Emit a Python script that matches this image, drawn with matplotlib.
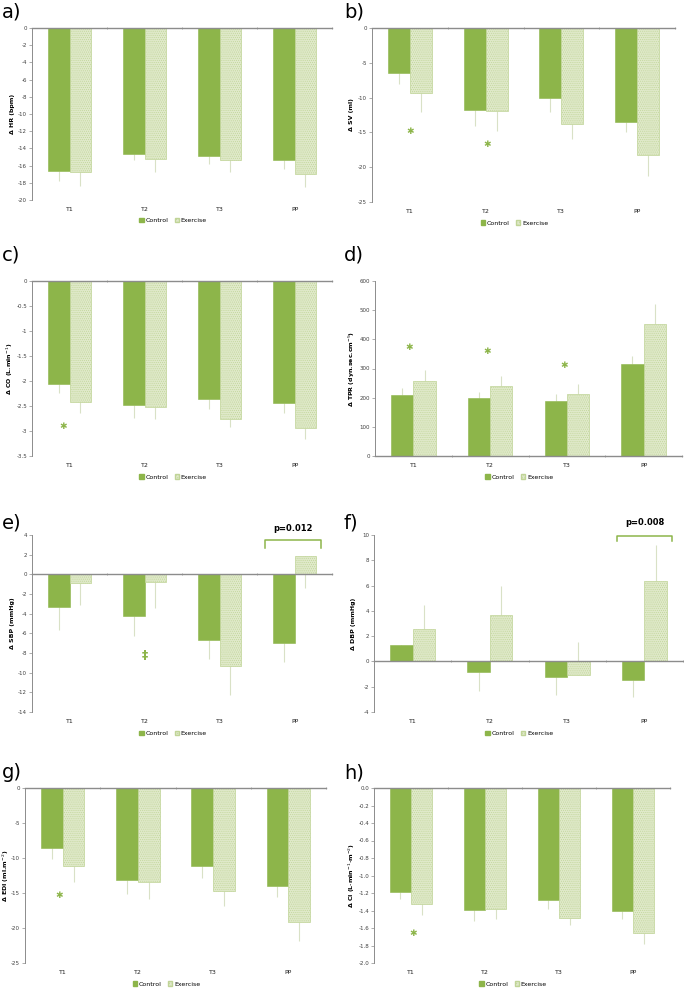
import matplotlib
matplotlib.use("Agg")
import matplotlib.pyplot as plt
import matplotlib.transforms as mtransforms
from matplotlib.patches import Patch
import numpy as np

plt.rcParams['axes.unicode_minus'] = False
plt.rcParams['hatch.linewidth'] = 0.4

categories = ['T1', 'T2', 'T3', 'PP']

# a) heart rate
hr_control = [-16.6, -14.6, -14.9, -15.4]
hr_exercise = [-16.8, -15.2, -15.4, -17.0]
hr_control_err = [-1.2, -0.8, -0.9, -1.0]
hr_exercise_err = [-1.6, -1.6, -1.4, -1.5]

# b) stroke volume
sv_control = [-6.4, -11.8, -10.1, -13.5]
sv_exercise = [-9.4, -11.9, -13.8, -18.2]
sv_control_err = [-1.7, -2.3, -2.0, -1.5]
sv_exercise_err = [-2.6, -2.9, -2.2, -3.0]
sv_stars = [(0.0, -14.8), (1.02, -16.8)]

# c) cardiac output
co_control = [-2.06, -2.47, -2.36, -2.44]
co_exercise = [-2.41, -2.51, -2.76, -2.93]
co_control_err = [-0.17, -0.26, -0.19, -0.19]
co_exercise_err = [-0.22, -0.24, -0.15, -0.23]
co_stars = [(-0.08, -2.9)]

# d) total peripheral resistance
tpr_control = [208, 199, 190, 314]
tpr_exercise = [256, 240, 213, 454]
tpr_control_err = [25, 22, 24, 29]
tpr_exercise_err = [40, 33, 35, 66]
tpr_stars = [(-0.06, 373), (0.96, 360), (1.96, 312)]

# e) systolic blood pressure
sbp_control = [-3.36, -4.2, -6.66, -7.03]
sbp_exercise = [-0.92, -0.8, -9.37, 1.87]
sbp_control_err = [-2.3, -2.05, -1.95, -1.9]
sbp_exercise_err = [-2.17, -2.63, -2.93, -3.23]
sbp_marks = [(1.0, -8.3)]
sbp_p = 'p=0.012'

# f) diastolic blood pressure
dbp_control = [1.3, -0.8, -1.2, -1.45]
dbp_exercise = [2.6, 3.67, -1.08, 6.35]
dbp_control_err = [-1.2, -1.5, -1.47, -1.4]
dbp_exercise_err = [1.84, 2.29, 2.64, 2.85]
dbp_p = 'p=0.008'

# g) end-diastolic index
edi_control = [-8.5, -13.2, -11.2, -14.0]
edi_exercise = [-11.2, -13.45, -14.7, -19.2]
edi_control_err = [-1.7, -2.0, -1.6, -1.6]
edi_exercise_err = [-2.2, -2.35, -2.1, -2.7]
edi_stars = [(-0.05, -15.3)]

# h) cardiac index
ci_control = [-1.185, -1.39, -1.28, -1.405]
ci_exercise = [-1.33, -1.38, -1.49, -1.66]
ci_control_err = [-0.08, -0.13, -0.10, -0.095]
ci_exercise_err = [-0.12, -0.12, -0.08, -0.12]
ci_stars = [(0.03, -1.66)]

GREEN = '#8db54a'
PALE = '#dfe9c9'
PALE_EDGE = '#c0d497'
ERR = '#d9e1c6'
AXIS = '#8c8c8c'

fig = plt.figure(figsize=(6.84, 9.9), dpi=100)
W, H = 684.0, 990.0


def make_ax(x0, y0, x1, y1):
    return fig.add_axes([x0 / W, 1 - y1 / H, (x1 - x0) / W, (y1 - y0) / H])


def draw_panel(ax, control, exercise, c_err, e_err, ylim, yticks, ylabel,
               fmt='{:g}', stars=(), star_char='\u2731', star_size=6.5, label_x=-0.058):
    x = np.arange(len(categories))
    w = 0.29
    ax.bar(x - w / 2, control, w, color=GREEN, edgecolor=GREEN, linewidth=0.4, zorder=2)
    ax.bar(x + w / 2, exercise, w, color=PALE, edgecolor=PALE_EDGE, hatch='........',
           linewidth=0.5, zorder=2)
    for xs, vals, errs in [(x - w / 2, control, c_err), (x + w / 2, exercise, e_err)]:
        errs = np.array(errs, dtype=float)
        lo = np.where(errs < 0, -errs, 0)
        hi = np.where(errs > 0, errs, 0)
        ax.errorbar(xs, vals, yerr=[lo, hi], fmt='none', ecolor=ERR, elinewidth=0.8,
                    capsize=0, zorder=1.5)
    for sx, sy in stars:
        ax.text(sx, sy, star_char, color=GREEN, fontsize=star_size, fontweight='bold',
                ha='center', va='center', zorder=4)
    ax.set_xlim(-0.5, 3.5)
    ax.set_ylim(*ylim)
    ax.set_yticks(yticks)
    ax.set_yticklabels([fmt.format(t) for t in yticks])
    ax.set_xticks([0.5, 1.5, 2.5, 3.5])
    ax.set_xticklabels([])
    for s in ['top', 'right']:
        ax.spines[s].set_visible(False)
    ax.spines['bottom'].set_position(('data', 0))
    ax.spines['bottom'].set_color(AXIS)
    ax.spines['bottom'].set_linewidth(1.0)
    ax.spines['left'].set_color(AXIS)
    ax.spines['left'].set_linewidth(0.7)
    ax.tick_params(axis='y', labelsize=4, colors=AXIS, labelcolor='#404040',
                   length=2, width=0.5, pad=1.5)
    ax.tick_params(axis='x', colors=AXIS, length=2, width=0.5, direction='inout')
    ax.set_ylabel(ylabel, fontsize=4.5, fontweight='bold')
    ax.yaxis.set_label_coords(label_x, 0.5)
    tr = mtransforms.blended_transform_factory(ax.transData, ax.transAxes)
    for i, c in enumerate(categories):
        ax.text(i, -0.055, c, transform=tr, fontsize=4.5, ha='center', va='center',
                color='#202020')
    handles = [Patch(facecolor=GREEN, edgecolor=GREEN),
               Patch(facecolor=PALE, edgecolor=PALE_EDGE, hatch='......')]
    ax.legend(handles, ['Control', 'Exercise'], loc='center', bbox_to_anchor=(0.47, -0.12),
              ncol=2, frameon=False, fontsize=4.5, handlelength=0.7, handleheight=0.7,
              columnspacing=1.0, handletextpad=0.3, borderpad=0)


def bracket(ax, x0, x1, ytop, ybot, label, ytext):
    ax.plot([x0, x0, x1, x1], [ybot, ytop, ytop, ybot], color=GREEN, lw=1.1,
            clip_on=False, zorder=4)
    ax.text((x0 + x1) / 2, ytext, label, fontsize=6, fontweight='bold', ha='center',
            va='center', clip_on=False)


ax_a = make_ax(32, 28, 332, 200)
draw_panel(ax_a, hr_control, hr_exercise, hr_control_err, hr_exercise_err,
           (-20, 0), np.arange(0, -21, -2), '\u0394 HR (bpm)')

ax_b = make_ax(372, 28, 675, 202)
draw_panel(ax_b, sv_control, sv_exercise, sv_control_err, sv_exercise_err,
           (-25, 0), np.arange(0, -26, -5), '\u0394 SV (ml)', stars=sv_stars)

ax_c = make_ax(32, 281, 332, 456)
draw_panel(ax_c, co_control, co_exercise, co_control_err, co_exercise_err,
           (-3.5, 0), np.arange(0, -3.6, -0.5), '\u0394 CO (L.min$^{-1}$)', stars=co_stars)

ax_d = make_ax(375, 281, 682, 456)
draw_panel(ax_d, tpr_control, tpr_exercise, tpr_control_err, tpr_exercise_err,
           (0, 600), np.arange(0, 601, 100), '\u0394 TPR (dyn.sec.cm$^{-5}$)', stars=tpr_stars)

ax_e = make_ax(32, 535, 332, 712)
draw_panel(ax_e, sbp_control, sbp_exercise, sbp_control_err, sbp_exercise_err,
           (-14, 4), np.arange(4, -15, -2), '\u0394 SBP (mmHg)', stars=sbp_marks,
           star_char='\u2021', star_size=9)
bracket(ax_e, 2.6, 3.35, 3.5, 2.7, sbp_p, 4.65)

ax_f = make_ax(374, 535, 683, 712)
draw_panel(ax_f, dbp_control, dbp_exercise, dbp_control_err, dbp_exercise_err,
           (-4, 10), np.arange(10, -5, -2), '\u0394 DBP (mmHg)')
bracket(ax_f, 2.64, 3.36, 9.95, 9.55, dbp_p, 10.95)

ax_g = make_ax(25, 788, 326, 963)
draw_panel(ax_g, edi_control, edi_exercise, edi_control_err, edi_exercise_err,
           (-25, 0), np.arange(0, -26, -5), '\u0394 EDI (ml.m$^{-2}$)', stars=edi_stars,
           label_x=-0.045)

ax_h = make_ax(374, 788, 670, 963)
draw_panel(ax_h, ci_control, ci_exercise, ci_control_err, ci_exercise_err,
           (-2.0, 0), np.arange(0, -2.01, -0.2), '\u0394 CI (L\u00b7min$^{-1}$\u00b7m$^{-2}$)',
           fmt='{:.1f}', stars=ci_stars)

for lab, px, py in [('a)', 2, 12), ('b)', 344, 12), ('c)', 2, 255), ('d)', 344, 255),
                    ('e)', 2, 523), ('f)', 344, 523), ('g)', 2, 773), ('h)', 344, 773)]:
    fig.text(px / W, 1 - py / H, lab, fontsize=14, ha='left', va='center')

fig.savefig('out.png', dpi=100)
